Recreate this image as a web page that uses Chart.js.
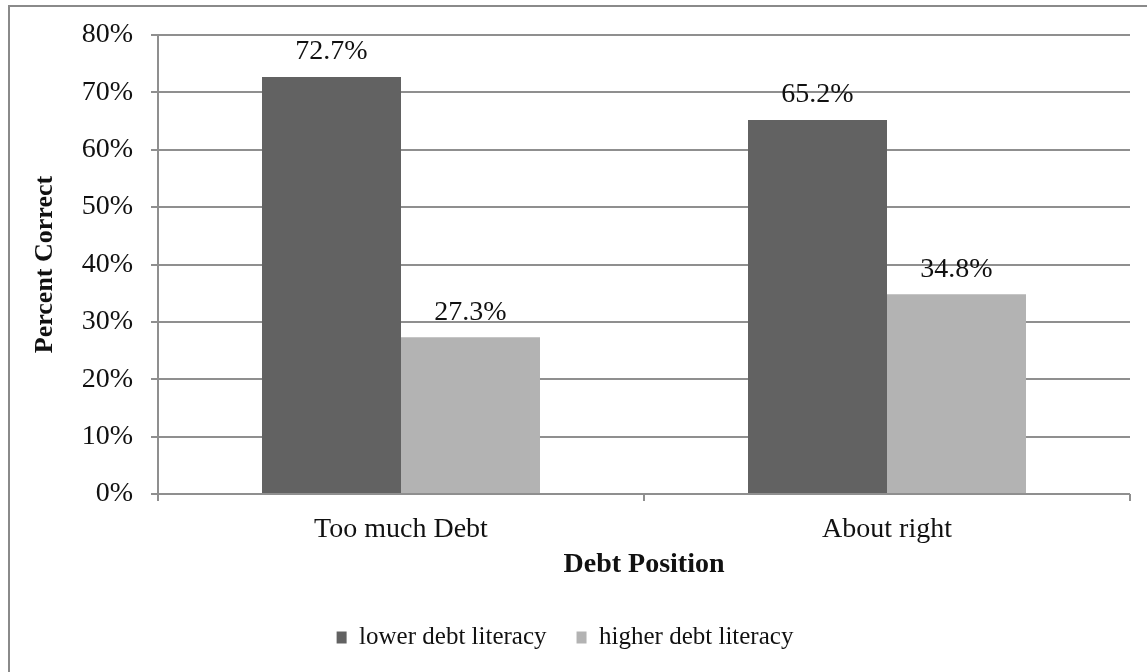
<!DOCTYPE html>
<html>
<head>
<meta charset="utf-8">
<script src="https://cdn.jsdelivr.net/npm/chart.js@4"></script>
<style>
  html, body { margin: 0; padding: 0; background: #fff; }
  canvas { display: block; }
</style>
</head>
<body>
<canvas id="debtChart" width="1147" height="672"></canvas>
<script>
// data
const categories = ['Too much Debt', 'About right'];
const lowerLiteracy = [72.7, 65.2];
const higherLiteracy = [27.3, 34.8];
const seriesNames = ['lower debt literacy', 'higher debt literacy'];
const yTicks = [0, 10, 20, 30, 40, 50, 60, 70, 80];

// look
const THEME = {
  dark: '#626262',
  light: '#b3b3b3',
  grid: '#8f8f8f',
  text: '#111111',
  font: '"Liberation Serif", "Times New Roman", serif'
};

// frame of the chart box (only top and left edges show in the picture)
const framePlugin = {
  id: 'frame',
  beforeDraw(chart) {
    const ctx = chart.ctx;
    ctx.save();
    ctx.strokeStyle = '#8a8a8a';
    ctx.lineWidth = 2;
    ctx.beginPath();
    ctx.moveTo(9, chart.height);
    ctx.lineTo(9, 6);
    ctx.lineTo(chart.width, 6);
    ctx.stroke();
    ctx.restore();
  }
};

// value labels over bars
const valueLabels = {
  id: 'valueLabels',
  afterDatasetsDraw(chart) {
    const ctx = chart.ctx;
    ctx.save();
    ctx.font = '28px ' + THEME.font;
    ctx.fillStyle = THEME.text;
    ctx.textAlign = 'center';
    ctx.textBaseline = 'middle';
    chart.data.datasets.forEach((ds, i) => {
      chart.getDatasetMeta(i).data.forEach((bar, j) => {
        ctx.fillText(ds.data[j].toFixed(1) + '%', bar.x, bar.y - 25);
      });
    });
    ctx.restore();
  }
};

new Chart(document.getElementById('debtChart').getContext('2d'), {
  type: 'bar',
  data: {
    labels: categories,
    datasets: [
      {
        label: seriesNames[0],
        data: lowerLiteracy,
        backgroundColor: THEME.dark,
        categoryPercentage: 0.572,
        barPercentage: 1
      },
      {
        label: seriesNames[1],
        data: higherLiteracy,
        backgroundColor: THEME.light,
        categoryPercentage: 0.572,
        barPercentage: 1
      }
    ]
  },
  options: {
    responsive: false,
    animation: false,
    layout: { padding: { left: 0, right: 17, top: 35, bottom: 12 } },
    scales: {
      x: {
        grid: {
          drawOnChartArea: false,
          drawTicks: true,
          tickLength: 7,
          color: THEME.grid,
          lineWidth: 2
        },
        border: { display: false },
        ticks: {
          color: THEME.text,
          padding: 12,
          font: { family: THEME.font, size: 28 }
        },
        title: {
          display: true,
          text: 'Debt Position',
          color: THEME.text,
          padding: { top: 0, bottom: 13 },
          font: { family: THEME.font, size: 28, weight: 'bold' }
        },
        afterFit(scale) { scale.height = 101; }
      },
      y: {
        min: 0,
        max: 80,
        afterBuildTicks(scale) { scale.ticks = yTicks.map(v => ({ value: v })); },
        grid: {
          color: THEME.grid,
          lineWidth: 2,
          tickLength: 7
        },
        border: { display: true, color: THEME.grid, width: 2 },
        ticks: {
          color: THEME.text,
          padding: 18,
          font: { family: THEME.font, size: 28 },
          callback: v => v + '%'
        },
        title: {
          display: true,
          text: 'Percent Correct',
          color: THEME.text,
          padding: { top: 30, bottom: 0 },
          font: { family: THEME.font, size: 26, weight: 'bold' }
        },
        afterFit(scale) { scale.width = 158; }
      }
    },
    plugins: {
      legend: {
        position: 'bottom',
        labels: {
          color: THEME.text,
          boxWidth: 10,
          boxHeight: 12,
          padding: 30,
          font: { family: THEME.font, size: 25 }
        }
      },
      tooltip: { enabled: false }
    }
  },
  plugins: [framePlugin, valueLabels]
});
</script>
</body>
</html>
